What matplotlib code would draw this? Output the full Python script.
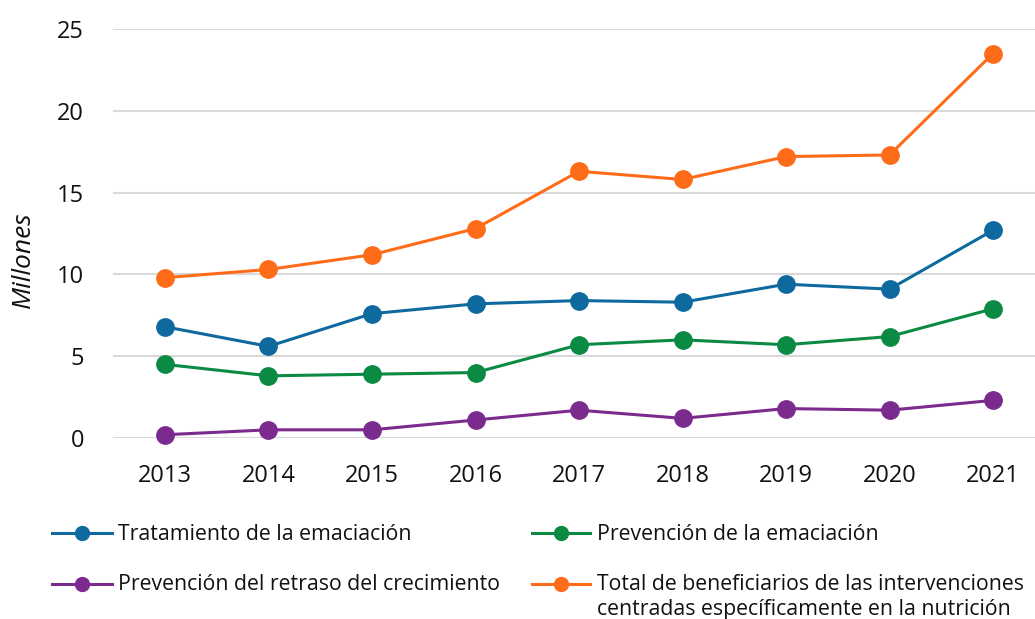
import matplotlib
matplotlib.use("Agg")
import matplotlib.pyplot as plt
from matplotlib.lines import Line2D

years = ["2013", "2014", "2015", "2016", "2017", "2018", "2019", "2020", "2021"]
tratamiento = [6.8, 5.6, 7.6, 8.2, 8.4, 8.3, 9.4, 9.1, 12.7]
prev_emaciacion = [4.5, 3.8, 3.9, 4.0, 5.7, 6.0, 5.7, 6.2, 7.9]
prev_retraso = [0.2, 0.5, 0.5, 1.1, 1.7, 1.2, 1.8, 1.7, 2.3]
total = [9.8, 10.3, 11.2, 12.8, 16.3, 15.8, 17.2, 17.3, 23.5]

labels = [
    "Tratamiento de la emaciación",
    "Prevención de la emaciación",
    "Prevención del retraso del crecimiento",
    "Total de beneficiarios de las intervenciones\ncentradas específicamente en la nutrición",
]
colors = ["#0E6A9E", "#0A8A43", "#7B2A8D", "#FF6C19"]

plt.rcParams["font.family"] = ["Open Sans", "DejaVu Sans"]

W, H = 1035, 619
fig = plt.figure(figsize=(W / 100, H / 100), dpi=100)
ax = fig.add_axes([0.1094, 0.2924, 0.9001, 0.6608])

x = list(range(len(years)))
series = [tratamiento, prev_emaciacion, prev_retraso, total]
for vals, col, lab in zip(series, colors, labels):
    ax.plot(x, vals, color=col, lw=2.2, marker="o", ms=12.5, zorder=3, clip_on=False)

ax.set_xlim(-0.5, len(years) - 0.5)
ax.set_ylim(0, 25)
ax.set_yticks([0, 5, 10, 15, 20, 25])
ax.set_xticks(x)
ax.set_xticklabels(years)
ax.tick_params(axis="both", length=0, labelsize=17, colors="#111111")
ax.tick_params(axis="x", pad=19)
ax.tick_params(axis="y", pad=21)
ax.grid(axis="y", color="#D9D9D9", lw=1.5)
ax.set_axisbelow(True)
for s in ax.spines.values():
    s.set_visible(False)

fig.text(23 / W, 1 - 260 / H, "Millones", rotation=90, ha="center", va="center",
         fontsize=19, style="italic", color="#111111")

# Manual legend (positions in pixels)
legend_pos = [(52, 112, 118, 533), (532, 590, 597, 533), (52, 112, 118, 584), (532, 590, 597, 584)]
for (x0, x1, tx, y), col, lab in zip(legend_pos, colors, labels):
    yf = 1 - y / H
    fig.add_artist(Line2D([x0 / W, x1 / W], [yf, yf], color=col, lw=2.2,
                          transform=fig.transFigure))
    fig.add_artist(Line2D([(x0 + x1) / 2 / W], [yf], color=col, marker="o", ms=10,
                          transform=fig.transFigure))
    lines = lab.split("\n")
    for i, line in enumerate(lines):
        fig.text(tx / W, 1 - (y + 1 + 25 * i) / H, line, ha="left", va="center",
                 fontsize=15.35, color="#111111")

fig.savefig("out.png", dpi=100)
